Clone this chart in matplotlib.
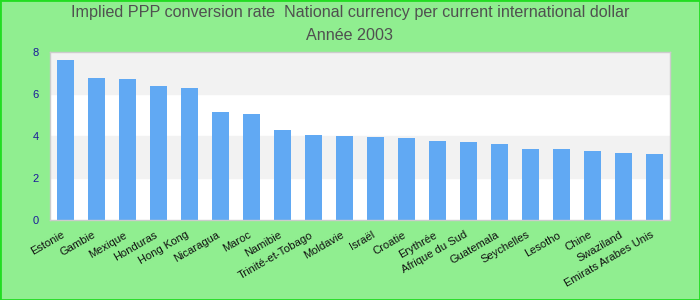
import matplotlib
matplotlib.use("Agg")
import matplotlib.pyplot as plt
from matplotlib import font_manager
import matplotlib.transforms as mtransforms
import numpy as np

plt.rcParams['font.family'] = ['Liberation Sans', 'DejaVu Sans']

countries = ["Estonie", "Gambie", "Mexique", "Honduras", "Hong Kong", "Nicaragua",
             "Maroc", "Namibie", "Trinité-et-Tobago", "Moldavie", "Israël", "Croatie",
             "Erythrée", "Afrique du Sud", "Guatemala", "Seychelles", "Lesotho",
             "Chine", "Swaziland", "Emirats Arabes Unis"]
values = [7.62, 6.76, 6.71, 6.38, 6.29, 5.14, 5.05, 4.29, 4.05, 4.0,
          3.95, 3.90, 3.76, 3.71, 3.62, 3.38, 3.38, 3.29, 3.19, 3.14]
yticks = [0, 2, 4, 6, 8]

title_font = 'Liberation Sans Narrow'
names = {f.name for f in font_manager.fontManager.ttflist}
title_size = 12.5
if title_font not in names:
    title_font = 'Liberation Sans'
    title_size = 11.6

fig = plt.figure(figsize=(7, 3), dpi=100, facecolor="#90ee90")
ax = fig.add_axes([50 / 700, 1 - 220 / 300, 620 / 700, 168 / 300])
ax.set_facecolor("white")

# alternating bands
for i in range(len(yticks) - 1):
    if i % 2 == 1:
        ax.axhspan(yticks[i], yticks[i + 1], color="#f2f2f2", zorder=0)

x = np.arange(len(countries))
ax.bar(x, values, width=0.55, color="#61a9f3", zorder=2)

ax.set_xlim(-0.5, len(countries) - 0.5)
ax.set_ylim(0, 8)
ax.set_yticks(yticks)
ax.set_yticklabels([str(t) for t in yticks], color="#1a1a99", fontsize=8)
ax.set_xticks(x)
ax.set_xticklabels(countries, rotation=30, ha="right", rotation_mode="anchor",
                   fontsize=8, color="#111111")
ax.tick_params(axis="y", length=0, pad=8)
ax.tick_params(axis="x", length=0, pad=7)
shift = mtransforms.ScaledTranslation(-4 / 100, 0, fig.dpi_scale_trans)
for lab in ax.get_xticklabels():
    lab.set_transform(lab.get_transform() + shift)
for s in ax.spines.values():
    s.set_color("#cccccc")
    s.set_linewidth(1)

fig.text(0.5, 1 - 13 / 300, "Implied PPP conversion rate  National currency per current international dollar",
         ha="center", va="center", fontsize=title_size, color="#505050", family=title_font)
fig.text(0.5, 1 - 36 / 300, "Année 2003", ha="center", va="center",
         fontsize=title_size, color="#505050", family=title_font)

# outer border
fig.patches.append(plt.Rectangle((0, 0), 1, 1, transform=fig.transFigure,
                                 fill=False, edgecolor="#22dd22", linewidth=2))

fig.savefig("out.png", dpi=100, facecolor=fig.get_facecolor())
